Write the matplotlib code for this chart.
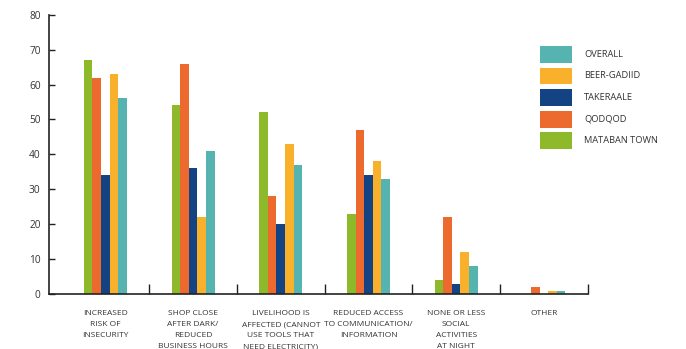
import numpy as np
import matplotlib
matplotlib.use("Agg")
import matplotlib.pyplot as plt
from matplotlib.patches import Rectangle

plt.rcParams['font.family'] = ['Open Sans', 'DejaVu Sans']

categories = [
    "INCREASED\nRISK OF\nINSECURITY",
    "SHOP CLOSE\nAFTER DARK/\nREDUCED\nBUSINESS HOURS",
    "LIVELIHOOD IS\nAFFECTED (CANNOT\nUSE TOOLS THAT\nNEED ELECTRICITY)",
    "REDUCED ACCESS\nTO COMMUNICATION/\nINFORMATION",
    "NONE OR LESS\nSOCIAL\nACTIVITIES\nAT NIGHT",
    "OTHER",
]
series_names = ["MATABAN TOWN", "QODQOD", "TAKERAALE", "BEER-GADIID", "OVERALL"]
mataban = [67, 54, 52, 23, 4, 0]
qodqod = [62, 66, 28, 47, 22, 2]
takeraale = [34, 36, 20, 34, 3, 0]
beer_gadiid = [63, 22, 43, 38, 12, 1]
overall = [56, 41, 37, 33, 8, 1]
y_ticks = [0, 10, 20, 30, 40, 50, 60, 70, 80]

values = [mataban, qodqod, takeraale, beer_gadiid, overall]
colors = ["#8DB92A", "#EC6A2E", "#134383", "#F9B02B", "#55B3B0"]
text_color = '#333333'

W, H = 686, 349
fig = plt.figure(figsize=(W / 100, H / 100), dpi=100)
ax = fig.add_axes([49 / W, 1 - 294 / H, (587.7 - 49) / W, (294 - 14.7) / H])

x = np.arange(len(categories))
w = 0.098
for i, (vals, col) in enumerate(zip(values, colors)):
    ax.bar(x + (i - 2) * w, vals, width=w, color=col, label=series_names[i], zorder=2)

ax.set_xlim(-0.643, 5.5)
ax.set_ylim(0, 80)
ax.set_yticks(y_ticks)
ax.tick_params(axis='y', direction='in', length=4, width=1, colors='#222222',
               labelsize=7.3, labelcolor=text_color, pad=6)
ax.set_xticks(np.arange(0.5, 6.0, 1.0))
ax.set_xticklabels([])
ax.tick_params(axis='x', direction='in', length=7, width=1, colors='#222222')

for s in ['top', 'right']:
    ax.spines[s].set_visible(False)
for s in ['left', 'bottom']:
    ax.spines[s].set_color('#222222')
    ax.spines[s].set_linewidth(1.2)

# category labels, one line at a time below the axis
trans = ax.get_xaxis_transform()
first_baseline_px = 315.4
line_step_px = 10.9
for xi, label in zip(x, categories):
    for j, line in enumerate(label.split("\n")):
        ypx = first_baseline_px + j * line_step_px
        yax = (294 - ypx) / (294 - 14.7)
        ax.text(xi, yax, line, transform=trans, ha='center', va='baseline',
                fontsize=6.0, color=text_color, clip_on=False)

# legend: colour swatches with labels, top entry is OVERALL
for k, (name, col) in enumerate(zip(series_names[::-1], colors[::-1])):
    top = 46 + k * 21.6
    fig.add_artist(Rectangle((540 / W, 1 - (top + 16.7) / H), 32 / W, 16.7 / H,
                             facecolor=col, edgecolor='none', transform=fig.transFigure))
    fig.text(584.3 / W, 1 - (top + 8.35) / H, name, ha='left', va='center',
             fontsize=6.7, color=text_color)

fig.savefig("out.png", dpi=100)
